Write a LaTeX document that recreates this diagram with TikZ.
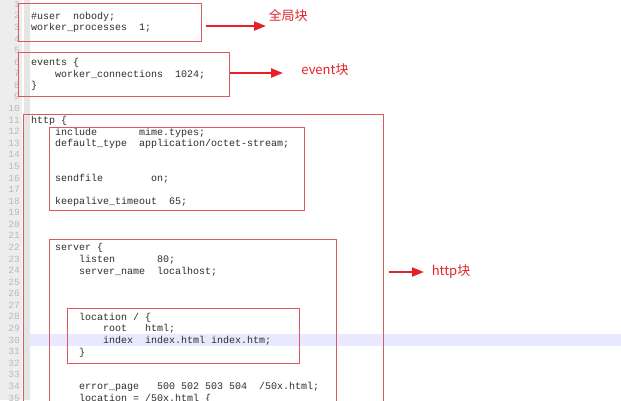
\documentclass[tikz,border=0pt]{standalone}
\usepackage{fontspec}
\setmonofont{Liberation Mono}
\newfontfamily\cjk{Noto Sans CJK SC}
\usetikzlibrary{arrows.meta, positioning}

\definecolor{boxred}{RGB}{222,88,100}
\definecolor{arrred}{RGB}{228,34,40}
\definecolor{codegray}{RGB}{45,45,45}
\definecolor{hiline}{RGB}{232,232,255}

\tikzset{
  declare function={ly(\n)=120+(\n-11)*11.58;},
  lnum/.style={anchor=east, inner sep=0pt, text=gray!55, font=\ttfamily\fontsize{9.5}{11}\selectfont},
  code/.style={anchor=base west, inner sep=0pt, text=codegray, font=\ttfamily\fontsize{10}{12}\selectfont},
  blk/.style={draw=boxred, line width=0.9pt, rectangle, anchor=north west, inner sep=0pt},
  lab/.style={text=arrred, inner sep=0pt, font=\cjk\fontsize{13}{15}\selectfont},
  arr/.style={draw=arrred, line width=2.2pt, -{Triangle[length=12pt,width=9pt]}}
}

\begin{document}
\begin{tikzpicture}[x=1pt, y=-1pt]
  \useasboundingbox (0,0) rectangle (621,400);
  \clip (0,0) rectangle (621,400);

  % Editor background
  \fill[white] (0,0) rectangle (621,400);
  \fill[gray!14] (0,0) rectangle (22,400);
  \fill[gray!20] (24,0) rectangle (30,400);
  \fill[hiline] (30,{ly(30)-6}) rectangle (621,{ly(30)+6});

  % Line numbers
  \foreach \n in {1,...,35}
    \node[lnum] (n\n) at (20,{ly(\n)}) {\n};

  % Code
  \node[code] (l2) at (31,{ly(2)+3.5}) {\#user~~nobody;};
  \node[code] (l3) at (31,{ly(3)+3.5}) {worker\_processes~~1;};
  \node[code] (l6) at (31,{ly(6)+3.5}) {events \{};
  \node[code] (l7) at (55,{ly(7)+3.5}) {worker\_connections~~1024;};
  \node[code] (l8) at (31,{ly(8)+3.5}) {\}};
  \node[code] (l11) at (31,{ly(11)+3.5}) {http \{};
  \node[code] (l12) at (55,{ly(12)+3.5}) {include~~~~~~~mime.types;};
  \node[code] (l13) at (55,{ly(13)+3.5}) {default\_type~~application/octet-stream;};
  \node[code] (l16) at (55,{ly(16)+3.5}) {sendfile~~~~~~~~on;};
  \node[code] (l18) at (55,{ly(18)+3.5}) {keepalive\_timeout~~65;};
  \node[code] (l22) at (55,{ly(22)+3.5}) {server \{};
  \node[code] (l23) at (79,{ly(23)+3.5}) {listen~~~~~~~80;};
  \node[code] (l24) at (79,{ly(24)+3.5}) {server\_name~~localhost;};
  \node[code] (l28) at (79,{ly(28)+3.5}) {location / \{};
  \node[code] (l29) at (103,{ly(29)+3.5}) {root~~~html;};
  \node[code] (l30) at (103,{ly(30)+3.5}) {index~~index.html index.htm;};
  \node[code] (l31) at (79,{ly(31)+3.5}) {\}};
  \node[code] (l34) at (79,{ly(34)+3.5}) {error\_page~~~500 502 503 504~~/50x.html;};
  \node[code] (l35) at (79,{ly(35)+3.5}) {location = /50x.html \{};

  % Blocks
  \node[blk, minimum width=183pt, minimum height=38pt] (gbox) at (18,3) {};
  \node[blk, minimum width=211pt, minimum height=44pt] (ebox) at (18,52) {};
  \node[blk, minimum width=360pt, minimum height=300pt] (hbox) at (23,114) {};
  \node[blk, minimum width=255pt, minimum height=83pt] (cbox) at (49,127) {};
  \node[blk, minimum width=287pt, minimum height=200pt] (sbox) at (49,239) {};
  \node[blk, minimum width=232pt, minimum height=55pt] (lbox) at (67,308) {};

  % Labels
  \node[lab] (glab) at (288,15) {全局块};
  \node[lab] (elab) at (325,70) {event块};
  \node[lab] (hlab) at (451,272) {http块};

  % Arrows
  \coordinate (ga) at (266,26);
  \coordinate (ea) at (283,73);
  \coordinate (ha) at (424,272);
  \draw[arr, shorten <=4pt] (gbox.east |- ga) -- (ga);
  \draw[arr] (ebox.east |- ea) -- (ea);
  \draw[arr, shorten <=5pt] (hbox.east |- ha) -- (ha);
\end{tikzpicture}
\end{document}
